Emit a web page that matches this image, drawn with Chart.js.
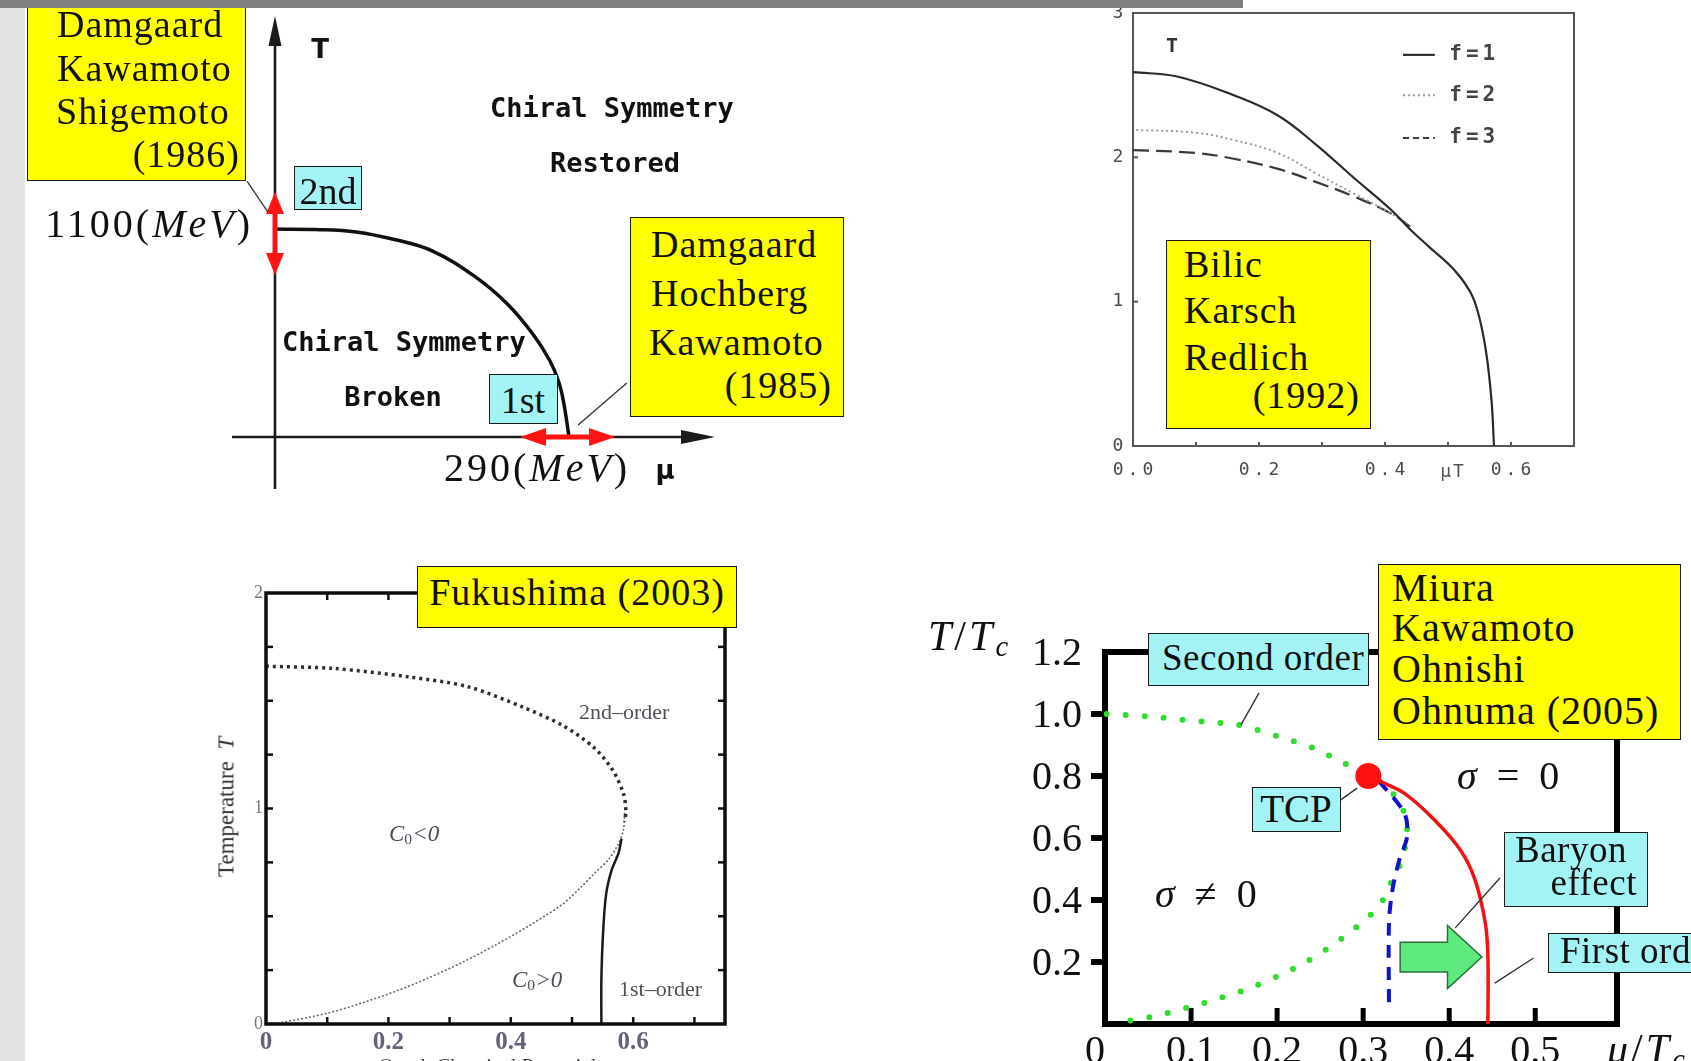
<!DOCTYPE html>
<html>
<head>
<meta charset="utf-8">
<title>Chiral phase diagrams</title>
<script src="https://cdn.jsdelivr.net/npm/chart.js"></script>
<style>
  html, body { margin: 0; padding: 0; }
  body { position: relative; width: 1691px; height: 1061px; overflow: hidden; background: #fff; }
  canvas, .box, .t, .bar { position: absolute; }
  .box { box-sizing: border-box; border: 1.6px solid #1c1c1c; }
  .yel { background: #ffff00; }
  .cya { background: #a3f3f5; }
  .t { white-space: nowrap; line-height: 1; font-family: 'Liberation Serif', serif; color: #111; }
  .sub { font-size: 0.68em; position: relative; top: 0.22em; }
</style>
</head>
<body>
<script>
// ---- panel 1: Damgaard / Kawamoto, T(MeV) vs mu(MeV)
const p1Mu = [0, 40, 80, 120, 155, 197, 229, 255, 271, 280, 285, 290];
const p1T  = [1100, 1098, 1085, 1042, 985, 850, 705, 540, 405, 290, 175, 0];
const p1ArrowT  = [857, 1296];      // red arrow along T axis
const p1ArrowMu = [241.7, 335.4];   // red arrow along mu axis
const p1Leaders = [[-27.6, 1354, -6.9, 1190], [347, 286, 299, 63]];

// ---- panel 2: Bilic / Karsch / Redlich, f = 1, 2, 3
const p2Mu1 = [0, 0.07, 0.16, 0.23, 0.29, 0.35, 0.41, 0.44, 0.47, 0.51, 0.535, 0.548, 0.56, 0.569, 0.573];
const p2T1  = [2.59, 2.56, 2.43, 2.29, 2.09, 1.86, 1.635, 1.50, 1.38, 1.22, 1.07, 0.92, 0.665, 0.32, 0];
const p2Mu2 = [0.005, 0.10, 0.16, 0.23, 0.29, 0.35, 0.41, 0.44];
const p2T2  = [2.19, 2.17, 2.12, 2.03, 1.89, 1.75, 1.61, 1.52];
const p2Mu3 = [0, 0.10, 0.16, 0.23, 0.29, 0.35, 0.41, 0.44];
const p2T3  = [2.05, 2.03, 1.99, 1.92, 1.83, 1.73, 1.61, 1.52];
const p2XTicks = [0, 0.2, 0.4, 0.6];
const p2XLabels = ['0.0', '0.2', '0.4', '0.6'];
const p2YTicks = [0, 1, 2, 3];
const p2Legend = ['f=1', 'f=2', 'f=3'];

// ---- panel 3: Fukushima
const p3MuA = [0, 0.11, 0.235, 0.33, 0.42, 0.485, 0.535, 0.566, 0.584, 0.588, 0.586];
const p3TA  = [1.66, 1.65, 1.61, 1.565, 1.47, 1.385, 1.285, 1.18, 1.07, 0.99, 0.94];
const p3MuB = [0.586, 0.584, 0.575, 0.559, 0.537, 0.516, 0.483, 0.428, 0.374, 0.32, 0.265, 0.211, 0.156, 0.102, 0.025, 0];
const p3TB  = [0.98, 0.90, 0.831, 0.761, 0.70, 0.638, 0.553, 0.453, 0.365, 0.285, 0.213, 0.151, 0.097, 0.051, 0.007, 0];
const p3MuC = [0.581, 0.576, 0.565, 0.556, 0.551, 0.548, 0.548];
const p3TC  = [0.86, 0.793, 0.716, 0.607, 0.437, 0.205, 0];
const p3XTicks = [0, 0.2, 0.4, 0.6];
const p3XLabels = ['0', '0.2', '0.4', '0.6'];
const p3XMinor = [0.1, 0.2, 0.3, 0.4, 0.5, 0.6, 0.7];
const p3YTicks = [0, 1, 2];
const p3YMinor = [0.25, 0.5, 0.75, 1, 1.25, 1.5, 1.75];

// ---- panel 4: Miura / Kawamoto / Ohnishi / Ohnuma
const p4GreenMu = [0.002, 0.055, 0.114, 0.155, 0.202, 0.243, 0.278, 0.307, 0.331, 0.348, 0.351, 0.345, 0.334, 0.318, 0.278, 0.231, 0.172, 0.114, 0.055, 0.008];
const p4GreenT  = [1.0, 0.991, 0.975, 0.965, 0.927, 0.889, 0.841, 0.803, 0.755, 0.68, 0.615, 0.529, 0.465, 0.379, 0.282, 0.196, 0.12, 0.067, 0.024, 0.002];
const p4BlueMu = [0.318, 0.348, 0.351, 0.342, 0.334, 0.330, 0.330];
const p4BlueT  = [0.785, 0.68, 0.604, 0.529, 0.432, 0.325, 0.056];
const p4RedMu = [0.318, 0.348, 0.383, 0.413, 0.430, 0.442, 0.445, 0.445];
const p4RedT  = [0.785, 0.744, 0.658, 0.561, 0.465, 0.325, 0.217, 0];
const p4TcpMu = [0.306];
const p4TcpT  = [0.80];
const p4XTicks = [0, 0.1, 0.2, 0.3, 0.4, 0.5];
const p4XLabels = ['0', '0.1', '0.2', '0.3', '0.4', '0.5'];
const p4YTicks = [0.2, 0.4, 0.6, 0.8, 1.0, 1.2];
const p4YLabels = ['0.2', '0.4', '0.6', '0.8', '1.0', '1.2'];
const p4Baryon = [0.343, 0.398, 0.438, 0.216];   // tail, head base, tip, level
const p4Leaders = [[0.179, 1.068, 0.158, 0.965], [0.274, 0.723, 0.293, 0.761],
                   [0.459, 0.471, 0.407, 0.310], [0.498, 0.213, 0.453, 0.132]];

const SERIF = "'Liberation Serif', serif";
const MONO = "'DejaVu Sans Mono', monospace";
const SANS = "'DejaVu Sans', sans-serif";

function series(xs, ys, style) {
  return Object.assign({
    data: xs.map((x, i) => ({ x: x, y: ys[i] })),
    showLine: true, pointRadius: 0, fill: false, clip: false, tension: 0.3
  }, style);
}

function pt(c, x, y) {
  return [c.scales.x.getPixelForValue(x), c.scales.y.getPixelForValue(y)];
}

function seg(ctx, a, b, w, col, dash) {
  ctx.save();
  ctx.strokeStyle = col; ctx.lineWidth = w; ctx.setLineDash(dash || []);
  ctx.beginPath(); ctx.moveTo(a[0], a[1]); ctx.lineTo(b[0], b[1]); ctx.stroke();
  ctx.restore();
}

function head(ctx, tip, from, len, half, col) {
  const dx = tip[0] - from[0], dy = tip[1] - from[1], d = Math.hypot(dx, dy);
  const ux = dx / d, uy = dy / d;
  const bx = tip[0] - ux * len, by = tip[1] - uy * len;
  ctx.save();
  ctx.fillStyle = col;
  ctx.beginPath();
  ctx.moveTo(tip[0], tip[1]);
  ctx.lineTo(bx - uy * half, by + ux * half);
  ctx.lineTo(bx + uy * half, by - ux * half);
  ctx.closePath(); ctx.fill();
  ctx.restore();
}

function arrow2(ctx, a, b, w, len, half, col) {
  const dx = b[0] - a[0], dy = b[1] - a[1], d = Math.hypot(dx, dy);
  const ux = dx / d, uy = dy / d;
  seg(ctx, [a[0] + ux * len * 0.8, a[1] + uy * len * 0.8], [b[0] - ux * len * 0.8, b[1] - uy * len * 0.8], w, col);
  head(ctx, a, b, len, half, col);
  head(ctx, b, a, len, half, col);
}

function label(ctx, s, x, y, font, col, align, base, ls) {
  ctx.save();
  ctx.font = font; ctx.fillStyle = col;
  ctx.textAlign = align; ctx.textBaseline = base || 'alphabetic';
  if (ls) ctx.letterSpacing = ls;
  ctx.fillText(s, x, y);
  ctx.restore();
}

function makeChart(cv, area, xr, yr, datasets, deco) {
  const canvas = document.createElement('canvas');
  canvas.width = cv[2]; canvas.height = cv[3];
  canvas.style.left = cv[0] + 'px'; canvas.style.top = cv[1] + 'px';
  canvas.style.width = cv[2] + 'px'; canvas.style.height = cv[3] + 'px';
  document.body.appendChild(canvas);
  return new Chart(canvas.getContext('2d'), {
    type: 'scatter',
    data: { datasets: datasets },
    options: {
      responsive: false, animation: false, devicePixelRatio: 1, events: [],
      layout: { padding: { left: area[0] - cv[0], top: area[1] - cv[1],
                           right: cv[0] + cv[2] - area[2], bottom: cv[1] + cv[3] - area[3] } },
      scales: {
        x: { type: 'linear', min: xr[0], max: xr[1], display: false },
        y: { type: 'linear', min: yr[0], max: yr[1], display: false }
      },
      plugins: { legend: { display: false }, tooltip: { enabled: false } }
    },
    plugins: [deco]
  });
}

function txt(html, x, base, size, o) {
  o = o || {};
  const d = document.createElement('div');
  d.className = 't';
  d.innerHTML = html;
  d.style.fontSize = size + 'px';
  if (o.font) d.style.fontFamily = o.font;
  if (o.bold) d.style.fontWeight = 'bold';
  if (o.color) d.style.color = o.color;
  if (o.ls) d.style.letterSpacing = o.ls + 'px';
  d.style.top = (base - 0.84 * size) + 'px';
  if (o.align === 'r') d.style.right = (1691 - x) + 'px';
  else d.style.left = x + 'px';
  if (o.align === 'c') d.style.transform = 'translateX(-50%)';
  document.body.appendChild(d);
  return d;
}

function box(x, y, w, h, cls) {
  const d = document.createElement('div');
  d.className = 'box ' + cls;
  d.style.left = x + 'px'; d.style.top = y + 'px';
  d.style.width = w + 'px'; d.style.height = h + 'px';
  document.body.appendChild(d);
}

// ================= panel 1 =================
makeChart([25, 8, 845, 520], [232, 16, 715, 489], [-42.4, 434], [-275, 2227.5], [
  series(p1Mu, p1T, { borderColor: '#111', borderWidth: 3.5, tension: 0.4 })
], {
  id: 'p1deco',
  beforeDatasetsDraw(c) {
    const ctx = c.ctx, s = c.scales;
    const top = pt(c, 0, s.y.max), bot = pt(c, 0, s.y.min);
    const lft = pt(c, s.x.min, 0), rgt = pt(c, s.x.max, 0);
    seg(ctx, bot, [top[0], top[1] + 20], 2.6, '#1b1b1b');
    head(ctx, top, bot, 30, 6.5, '#1b1b1b');
    seg(ctx, lft, [rgt[0] - 20, rgt[1]], 2.6, '#1b1b1b');
    head(ctx, rgt, lft, 34, 7, '#1b1b1b');
  },
  afterDatasetsDraw(c) {
    const ctx = c.ctx;
    arrow2(ctx, pt(c, 0, p1ArrowT[1]), pt(c, 0, p1ArrowT[0]), 5, 22, 9, '#ff1414');
    arrow2(ctx, pt(c, p1ArrowMu[0], 0), pt(c, p1ArrowMu[1], 0), 5, 26, 9, '#ff1414');
    p1Leaders.forEach(l => seg(ctx, pt(c, l[0], l[1]), pt(c, l[2], l[3]), 1.3, '#333'));
  }
});

// ================= panel 2 =================
const p2Styles = [
  { borderColor: '#2a2a2a', borderWidth: 2.2 },
  { borderColor: '#9a9a9a', borderWidth: 2, borderDash: [2, 3] },
  { borderColor: '#3a3a3a', borderWidth: 2.2, borderDash: [16, 7] }
];
makeChart([1060, 8, 631, 520], [1133, 13, 1574, 446], [0, 0.7], [0, 3], [
  series(p2Mu1, p2T1, Object.assign({ tension: 0.4 }, p2Styles[0])),
  series(p2Mu2, p2T2, Object.assign({ tension: 0.4 }, p2Styles[1])),
  series(p2Mu3, p2T3, Object.assign({ tension: 0.4 }, p2Styles[2]))
], {
  id: 'p2deco',
  beforeDatasetsDraw(c) {
    const ctx = c.ctx, a = c.chartArea;
    ctx.save();
    ctx.strokeStyle = '#555'; ctx.lineWidth = 2;
    ctx.strokeRect(a.left, a.top, a.right - a.left, a.bottom - a.top);
    ctx.restore();
    [0.1, 0.2, 0.3, 0.4, 0.5, 0.6].forEach(v => {
      const x = c.scales.x.getPixelForValue(v);
      seg(ctx, [x, a.bottom], [x, a.bottom - 4], 2, '#555');
    });
    p2YTicks.forEach(v => {
      const y = c.scales.y.getPixelForValue(v);
      seg(ctx, [a.left, y], [a.left + 5, y], 2, '#555');
      label(ctx, String(v), a.left - 15, y, '18px ' + MONO, '#4a4a4a', 'center', 'middle');
    });
    p2XTicks.forEach((v, i) => {
      label(ctx, p2XLabels[i], c.scales.x.getPixelForValue(v) + 2, a.bottom + 29, '18px ' + MONO, '#4a4a4a', 'center', 'alphabetic', '4px');
    });
    label(ctx, 'μT', c.scales.x.getPixelForValue(0.508), a.bottom + 31, '18px ' + MONO, '#555', 'center', 'alphabetic', '2px');
  },
  afterDraw(c) {
    const ctx = c.ctx;
    const rows = [2.71, 2.43, 2.134];
    rows.forEach((r, i) => {
      const a = pt(c, 0.4286, r), b = pt(c, 0.479, r);
      seg(ctx, a, b, p2Styles[i].borderWidth, p2Styles[i].borderColor, i === 2 ? [6, 4] : p2Styles[i].borderDash);
      label(ctx, p2Legend[i], pt(c, 0.502, r)[0], a[1], 'bold 21px ' + MONO, '#444', 'left', 'middle', '4px');
    });
  }
});

// ================= panel 3 =================
makeChart([180, 540, 620, 521], [266, 593, 725, 1024], [0, 0.75], [0, 2], [
  series(p3MuC, p3TC, { borderColor: '#1a1a1a', borderWidth: 2.5, tension: 0.25 }),
  series(p3MuA, p3TA, { borderColor: '#2e2e2e', borderWidth: 3.5, borderDash: [3, 4] }),
  series(p3MuB, p3TB, { borderColor: '#6a6a6a', borderWidth: 1.6, borderDash: [2, 2] })
], {
  id: 'p3deco',
  afterDraw(c) {
    const ctx = c.ctx, a = c.chartArea;
    p3XMinor.forEach(v => {
      const x = c.scales.x.getPixelForValue(v);
      seg(ctx, [x, a.bottom], [x, a.bottom - 7], 2.5, '#111');
      seg(ctx, [x, a.top], [x, a.top + 7], 2.5, '#111');
    });
    p3YMinor.forEach(v => {
      const y = c.scales.y.getPixelForValue(v);
      seg(ctx, [a.left, y], [a.left + 7, y], 2.5, '#111');
      seg(ctx, [a.right, y], [a.right - 7, y], 2.5, '#111');
    });
    ctx.save();
    ctx.strokeStyle = '#0d0d0d'; ctx.lineWidth = 3.5;
    ctx.strokeRect(a.left, a.top, a.right - a.left, a.bottom - a.top);
    ctx.restore();
    p3XTicks.forEach((v, i) => {
      label(ctx, p3XLabels[i], c.scales.x.getPixelForValue(v), a.bottom + 25, 'bold 25px ' + SERIF, '#62627a', 'center');
    });
    p3YTicks.forEach(v => {
      label(ctx, String(v), a.left - 3, c.scales.y.getPixelForValue(v), '18px ' + SERIF, '#777', 'right', 'middle');
    });
  }
});

// ================= panel 4 =================
makeChart([880, 540, 811, 521], [1105, 652, 1617, 1024], [0, 0.595], [0, 1.2], [
  { data: p4TcpMu.map((x, i) => ({ x: x, y: p4TcpT[i] })), pointRadius: 13, backgroundColor: '#ff1010', borderWidth: 0, clip: false },
  series(p4RedMu, p4RedT, { borderColor: '#ee1414', borderWidth: 3.5 }),
  series(p4BlueMu, p4BlueT, { borderColor: '#1212c8', borderWidth: 4, borderDash: [13, 9] }),
  series(p4GreenMu, p4GreenT, { borderColor: '#2fdc2f', borderWidth: 6, borderDash: [0, 19], borderCapStyle: 'round' })
], {
  id: 'p4deco',
  beforeDatasetsDraw(c) {
    const ctx = c.ctx, a = c.chartArea;
    ctx.save();
    ctx.strokeStyle = '#000'; ctx.lineWidth = 6;
    ctx.strokeRect(a.left, a.top, a.right - a.left, a.bottom - a.top);
    ctx.restore();
    p4XTicks.slice(1).forEach(v => {
      const x = c.scales.x.getPixelForValue(v);
      seg(ctx, [x, a.bottom], [x, a.bottom - 16], 5, '#000');
    });
    p4YTicks.slice(0, 5).forEach(v => {
      const y = c.scales.y.getPixelForValue(v);
      seg(ctx, [a.left - 14, y], [a.left, y], 6, '#000');
    });
    p4YTicks.forEach((v, i) => {
      label(ctx, p4YLabels[i], a.left - 23, c.scales.y.getPixelForValue(v) + 13, '40px ' + SERIF, '#111', 'right');
    });
    p4XTicks.forEach((v, i) => {
      label(ctx, p4XLabels[i], c.scales.x.getPixelForValue(v) - (i === 0 ? 10 : 0), a.bottom + 39, '40px ' + SERIF, '#111', 'center');
    });
  },
  afterDraw(c) {
    const ctx = c.ctx;
    p4Leaders.forEach(l => seg(ctx, pt(c, l[0], l[1]), pt(c, l[2], l[3]), 1.4, '#333'));
    const tail = p4Baryon[0], base = p4Baryon[1], tip = p4Baryon[2], lv = p4Baryon[3];
    const bh = 0.048, hh = 0.102;
    const poly = [[tail, lv + bh], [base, lv + bh], [base, lv + hh], [tip, lv], [base, lv - hh], [base, lv - bh], [tail, lv - bh]]
      .map(p => pt(c, p[0], p[1]));
    ctx.save();
    ctx.beginPath();
    poly.forEach((p, i) => i ? ctx.lineTo(p[0], p[1]) : ctx.moveTo(p[0], p[1]));
    ctx.closePath();
    ctx.fillStyle = '#5de97e'; ctx.fill();
    ctx.strokeStyle = '#2c6e3c'; ctx.lineWidth = 1.5; ctx.stroke();
    ctx.restore();
  }
});

// ================= text and label boxes =================
// panel 1
box(27, 4, 219, 177, 'yel');
txt('Damgaard', 57, 37, 38, { ls: 1 });
txt('Kawamoto', 57, 81, 38, { ls: 1 });
txt('Shigemoto', 56, 124, 38, { ls: 1 });
txt('(1986)', 240, 167, 38, { align: 'r', ls: 1 });
box(294, 166, 68, 44, 'cya');
txt('2nd', 328, 204, 38, { align: 'c' });
box(489, 374, 69, 50, 'cya');
txt('1st', 523, 413, 38, { align: 'c' });
box(630, 217, 214, 200, 'yel');
txt('Damgaard', 651, 257, 38, { ls: 1 });
txt('Hochberg', 651, 306, 38, { ls: 1 });
txt('Kawamoto', 649, 355, 38, { ls: 1 });
txt('(1985)', 832, 398, 38, { align: 'r', ls: 1 });
txt('1100(<i>MeV</i>)', 253, 238, 40, { align: 'r', ls: 3 });
txt('290(<i>MeV</i>)', 444, 482, 40, { ls: 3 });
txt('μ', 665, 479, 26, { font: SANS, bold: true, align: 'c' });
txt('T', 320, 58, 26, { font: SANS, bold: true, align: 'c' });
txt('Chiral Symmetry', 490, 117, 27, { font: MONO, bold: true });
txt('Restored', 615, 172, 27, { font: MONO, bold: true, align: 'c' });
txt('Chiral Symmetry', 282, 351, 27, { font: MONO, bold: true });
txt('Broken', 393, 406, 27, { font: MONO, bold: true, align: 'c' });

// panel 2
txt('T', 1172, 52, 20, { font: MONO, bold: true, color: '#333', align: 'c' });
box(1166, 240, 205, 189, 'yel');
txt('Bilic', 1184, 277, 38, { ls: 1 });
txt('Karsch', 1184, 323, 38, { ls: 1 });
txt('Redlich', 1184, 370, 38, { ls: 1 });
txt('(1992)', 1360, 408, 38, { align: 'r', ls: 1 });

// panel 3
box(417, 566, 320, 62, 'yel');
txt('Fukushima (2003)', 577, 605, 38, { align: 'c', ls: 1 });
txt('2nd–order', 579, 719, 22, { color: '#505058' });
txt('1st–order', 619, 996, 22, { color: '#505058' });
txt('<i>C</i><span class="sub">0</span><i>&lt;0</i>', 389, 841, 23, { color: '#4c4c5c' });
txt('<i>C</i><span class="sub">0</span><i>&gt;0</i>', 512, 987, 23, { color: '#4c4c5c' });
const tempLbl = txt('Temperature&nbsp;&nbsp;<i>T</i>', 226, 0, 23, { color: '#333' });
tempLbl.style.top = '807px';
tempLbl.style.transform = 'translate(-50%, -50%) rotate(-90deg)';
txt('Quark Chemical Potential&nbsp;&nbsp;<i>μ</i>', 498, 1074, 21, { align: 'c', color: '#444' });

// panel 4
txt('<i>T</i>/<i>T</i><span class="sub"><i>c</i></span>', 928, 650, 42, { ls: 3 });
txt('<i>μ</i>/<i>T</i><span class="sub"><i>c</i></span>', 1607, 1063, 42, { ls: 3 });
txt('<i>σ</i> = 0', 1457, 790, 40, { ls: 5 });
txt('<i>σ</i> ≠ 0', 1155, 908, 40, { ls: 5 });
box(1378, 564, 303, 176, 'yel');
txt('Miura', 1392, 602, 40, { ls: 1 });
txt('Kawamoto', 1392, 642, 40, { ls: 1 });
txt('Ohnishi', 1392, 683, 40, { ls: 1 });
txt('Ohnuma (2005)', 1392, 725, 40, { ls: 1 });
box(1148, 633, 221, 53, 'cya');
txt('Second order', 1162, 670, 37, { ls: 0.5 });
box(1252, 787, 89, 45, 'cya');
txt('TCP', 1296, 822, 39, { align: 'c' });
box(1504, 832, 144, 75, 'cya');
txt('Baryon', 1515, 862, 37, { ls: 0.5 });
txt('effect', 1637, 895, 37, { align: 'r', ls: 0.5 });
box(1548, 933, 200, 40, 'cya');
txt('First order', 1560, 963, 37, { ls: 0.5 });

// slide chrome
const strip = document.createElement('div');
strip.className = 'bar';
Object.assign(strip.style, { left: '0px', top: '0px', width: '25px', height: '1061px', background: '#e3e3e3' });
document.body.appendChild(strip);
const bar = document.createElement('div');
bar.className = 'bar';
Object.assign(bar.style, { left: '0px', top: '0px', width: '1243px', height: '8px', background: '#7f7f7f' });
document.body.appendChild(bar);
</script>
</body>
</html>
